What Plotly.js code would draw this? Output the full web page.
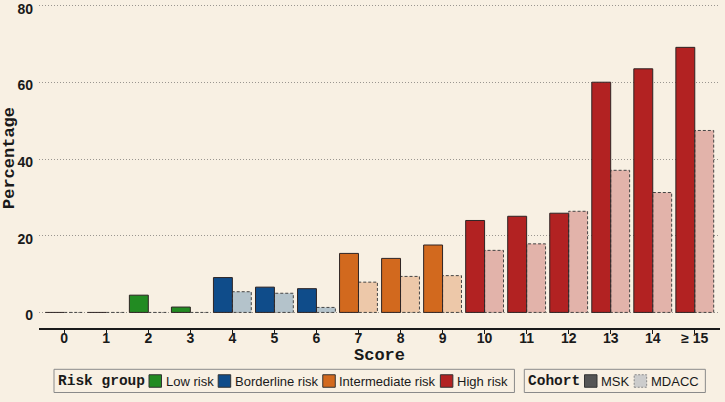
<!DOCTYPE html>
<html>
<head>
<meta charset="utf-8">
<script src="https://cdn.plot.ly/plotly-3.0.1.min.js"></script>
<style>
  html, body { margin: 0; padding: 0; background: #F8F0E3; }
  #chart { width: 725px; height: 402px; }
</style>
</head>
<body>
<div id="chart"></div>
<script>
// ---- Data ----
const scores = ['0', '1', '2', '3', '4', '5', '6', '7', '8', '9', '10', '11', '12', '13', '14', '\u2265 15'];
const mskPct = [0, 0, 4.5, 1.4, 9.1, 6.6, 6.2, 15.4, 14.1, 17.6, 24.0, 25.1, 25.9, 60.1, 63.6, 69.2];
const mdaccPct = [0, 0, 0, 0, 5.4, 5.0, 1.3, 7.9, 9.4, 9.6, 16.2, 17.9, 26.4, 37.1, 31.3, 47.5];
const scoreGroup = [0, 0, 0, 0, 1, 1, 1, 2, 2, 2, 3, 3, 3, 3, 3, 3];
const groupNames = ['Low risk', 'Borderline risk', 'Intermediate risk', 'High risk'];
const cohortNames = ['MSK', 'MDACC'];
const yTicks = [0, 20, 40, 60, 80];

// ---- Styles ----
const BG = '#F8F0E3';
const groupColors = ['#228B22', '#0F4C8A', '#D2691E', '#B22222'];
const groupLightByGroup = ['#C4D8C0', '#B4C3CB', '#EDC8A9', '#E2B3AA'];
const cohortColors = ['#555555', '#CCCCCC'];
const TXT = '#1a1a1a';
const SANS = 'Liberation Sans, Arial, sans-serif';
const MONO = 'Liberation Mono, Courier New, monospace';

const M = { l: 39, r: 5, t: 3, b: 74 };
const W = 725, H = 402;
const PW = W - M.l - M.r, PH = H - M.t - M.b;
const px2x = px => (px - M.l) / PW;
const py2y = py => (H - M.b - py) / PH;

const BW = 0.45; // each bar width in category units
const xIdx = scores.map((_, i) => i);
const bold = s => '<b>' + s + '</b>';

// bar traces
const mskBar = {
  type: 'bar', x: xIdx, y: mskPct, width: BW, offset: -BW,
  marker: { color: scoreGroup.map(g => groupColors[g]), line: { width: 0 } },
  showlegend: false, hoverinfo: 'x+y', name: cohortNames[0]
};
const mdaccBar = {
  type: 'bar', x: xIdx, y: mdaccPct, width: BW, offset: 0,
  marker: { color: scoreGroup.map(g => groupLightByGroup[g]), line: { width: 0 } },
  showlegend: false, hoverinfo: 'x+y', name: cohortNames[1]
};

// outlines built from the same data
function outline(vals, off) {
  const xs = [], ys = [];
  vals.forEach((v, i) => {
    const x0 = i + off, x1 = i + off + BW;
    if (v > 0) {
      xs.push(x0, x0, x1, x1, x0, null);
      ys.push(0, v, v, 0, 0, null);
    } else {
      xs.push(x0, x1, null);
      ys.push(0, 0, null);
    }
  });
  return { xs, ys };
}
const oMd = outline(mdaccPct, 0);
const oMs = outline(mskPct, -BW);
const mdaccLine = {
  type: 'scatter', mode: 'lines', x: oMd.xs, y: oMd.ys,
  line: { color: '#444444', width: 1, dash: '3px,2px' },
  showlegend: false, hoverinfo: 'skip', connectgaps: false
};
const mskLine = {
  type: 'scatter', mode: 'lines', x: oMs.xs, y: oMs.ys,
  line: { color: '#2e2424', width: 1 },
  showlegend: false, hoverinfo: 'skip', connectgaps: false
};

// ---- Custom legend ----
const cv = document.createElement('canvas').getContext('2d');
function tw(text, font) { cv.font = font; return cv.measureText(text).width; }
const LEG_TITLE_FONT = { family: MONO, size: 14.5, color: TXT, weight: 'bold' };
const LEG_ITEM_FONT = { family: SANS, size: 13, color: TXT };
const titleCss = 'bold 14.5px "Liberation Mono"';
const itemCss = '13px "Liberation Sans"';
const shapes = [], annotations = [];
const legTop = 369.3, legBot = 392.5, legMid = 381, SQ = 12.5;

function addText(text, pxLeft, font) {
  annotations.push({
    xref: 'paper', yref: 'paper', x: px2x(pxLeft - 2), y: py2y(legMid),
    xanchor: 'left', yanchor: 'middle', text: text, showarrow: false, font: font
  });
}
function buildLegend(left, title, labels, fills, dashed) {
  let x = left + 4;
  addText(bold(title), x, LEG_TITLE_FONT);
  x += tw(title, titleCss) + 4;
  labels.forEach((lab, k) => {
    shapes.push({
      type: 'rect', xref: 'paper', yref: 'paper',
      x0: px2x(x), x1: px2x(x + SQ), y0: py2y(legMid + SQ / 2), y1: py2y(legMid - SQ / 2),
      fillcolor: fills[k], line: { color: dashed[k] ? '#888888' : '#333333', width: 1, dash: dashed[k] ? '2px,1.5px' : 'solid' }
    });
    x += SQ + 4;
    addText(lab, x, LEG_ITEM_FONT);
    x += tw(lab, itemCss) + 5;
  });
  const right = x + 2;
  shapes.push({
    type: 'rect', xref: 'paper', yref: 'paper',
    x0: px2x(left), x1: px2x(right), y0: py2y(legBot), y1: py2y(legTop),
    fillcolor: 'rgba(0,0,0,0)', line: { color: '#8a8a8a', width: 1 }
  });
  return right;
}
buildLegend(54, 'Risk group', groupNames, groupColors, [false, false, false, false]);
buildLegend(524.3, 'Cohort', cohortNames, cohortColors, [false, true]);

// axis titles
annotations.push({
  xref: 'paper', yref: 'paper', x: px2x(9.5), y: py2y(158.5),
  xanchor: 'center', yanchor: 'middle', textangle: -90, showarrow: false,
  text: bold('Percentage'), font: { family: MONO, size: 17, color: TXT, weight: 'bold' }
});
annotations.push({
  xref: 'paper', yref: 'paper', x: 0.5, y: py2y(355),
  xanchor: 'center', yanchor: 'middle', showarrow: false,
  text: bold('Score'), font: { family: MONO, size: 17, color: TXT, weight: 'bold' }
});

const layout = {
  width: W, height: H, margin: M,
  paper_bgcolor: BG, plot_bgcolor: BG,
  barmode: 'overlay', showlegend: false,
  xaxis: {
    range: [-0.6, 15.6], tickmode: 'array', tickvals: xIdx, ticktext: scores.map(bold),
    showgrid: false, zeroline: false, showline: true, linecolor: '#1a1a1a', linewidth: 1.6,
    ticks: 'outside', ticklen: 4, tickwidth: 1, tickcolor: '#1a1a1a',
    ticklabelstandoff: -7,
    tickfont: { family: SANS, size: 14, color: TXT, weight: 'bold' },
    automargin: false, fixedrange: true
  },
  yaxis: {
    range: [-4.07, 80.78], tickmode: 'array', tickvals: yTicks, ticktext: yTicks.map(v => bold(String(v))),
    showgrid: true, gridcolor: '#9a9690', gridwidth: 1, griddash: '1px,2px',
    zeroline: false, showline: false, ticks: '', ticklabelstandoff: 5,
    ticklabelshift: 3, ticklabeloverflow: 'allow',
    tickfont: { family: SANS, size: 14, color: TXT, weight: 'bold' },
    automargin: false, fixedrange: true
  },
  shapes: shapes,
  annotations: annotations
};

Plotly.newPlot('chart', [mskBar, mdaccBar, mdaccLine, mskLine], layout, { displayModeBar: false, staticPlot: true });
</script>
</body>
</html>
